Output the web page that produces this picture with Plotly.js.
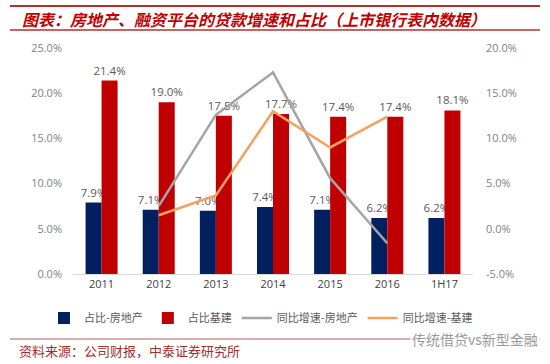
<!DOCTYPE html>
<html><head><meta charset="utf-8">
<script src="https://cdn.plot.ly/plotly-3.0.1.min.js"></script>
<style>html,body{margin:0;padding:0;background:#fff}#c{width:550px;height:364px}</style>
</head><body><div id="c"></div>
<script>
const categories = ['2011','2012','2013','2014','2015','2016','1H17'];
const shareRealEstate = [7.9, 7.1, 7.0, 7.4, 7.1, 6.2, 6.2];
const shareInfra = [21.4, 19.0, 17.5, 17.7, 17.4, 17.4, 18.1];
const growthRealEstate = [null, 2.5, 12.6, 17.3, 5.6, -1.6, null];
const growthInfra = [null, 1.5, 3.7, 13.0, 9.0, 12.4, null];
const leftTicks = [0,5,10,15,20,25];
const rightTicks = [-5,0,5,10,15,20];

const px = x => (x-73)/400;
const py = y => (274-y)/226;
const labelFont = {family:'Open Sans, DejaVu Sans, sans-serif', size:11.5, color:'#595959'};

const traces = [
  {type:'bar', name:'占比-房地产', x:categories, y:shareRealEstate, marker:{color:'#002060'},
   texttemplate:'%{y:.1f}%', textposition:'outside', textfont:labelFont, constraintext:'none', cliponaxis:false, hoverinfo:'skip'},
  {type:'bar', name:'占比基建', x:categories, y:shareInfra, marker:{color:'#c00000'},
   texttemplate:'%{y:.1f}%', textposition:'outside', textfont:labelFont, constraintext:'none', cliponaxis:false, hoverinfo:'skip'},
  {type:'scatter', mode:'lines', name:'同比增速-房地产', x:categories, y:growthRealEstate, yaxis:'y2',
   line:{color:'#a5a5a5', width:2.5}, connectgaps:false},
  {type:'scatter', mode:'lines', name:'同比增速-基建', x:categories, y:growthInfra, yaxis:'y2',
   line:{color:'#f4a15d', width:2.5}, connectgaps:false}
];

const layout = {
  width:550, height:364,
  margin:{l:73, r:77, t:48, b:90},
  paper_bgcolor:'#fff', plot_bgcolor:'#fff',
  barmode:'group', bargap:0.44, bargroupgap:0,
  showlegend:true,
  legend:{orientation:'h', xref:'paper', yref:'paper', x:px(44), xanchor:'left', y:py(318), yanchor:'middle',
    font:{family:'Noto Sans CJK SC, sans-serif', size:11, color:'#595959'}, itemwidth:30,
    traceorder:'normal', bgcolor:'rgba(0,0,0,0)'},
  xaxis:{type:'category', showline:true, linecolor:'#d9d9d9', linewidth:1, ticks:'',
    tickfont:{family:'Open Sans, DejaVu Sans, sans-serif', size:11, color:'#404040'}, showgrid:false, zeroline:false},
  yaxis:{range:[0,25], tickvals:leftTicks, ticktext:leftTicks.map(v=>v.toFixed(1)+'%'), showgrid:false, zeroline:false,
    showline:false, ticklabelstandoff:10,
    tickfont:{family:'Open Sans, DejaVu Sans, sans-serif', size:11, color:'#7f7f7f'}},
  yaxis2:{range:[-5,20], overlaying:'y', side:'right', tickvals:rightTicks, ticktext:rightTicks.map(v=>v.toFixed(1)+'%'),
    showgrid:false, zeroline:false, showline:false, ticklabelstandoff:12,
    tickfont:{family:'Open Sans, DejaVu Sans, sans-serif', size:11, color:'#7f7f7f'}},
  shapes:[
    {type:'line', xref:'paper', yref:'paper', x0:px(10), x1:px(540), y0:py(6), y1:py(6), line:{color:'#b03030', width:2}},
    {type:'line', xref:'paper', yref:'paper', x0:px(10), x1:px(540), y0:py(30), y1:py(30), line:{color:'#b03030', width:1.5}},
    {type:'line', xref:'paper', yref:'paper', x0:px(10), x1:px(540), y0:py(339), y1:py(339), line:{color:'#b06060', width:1}}
  ],
  annotations:[
    {text:'<b><i>图表：房地产、融资平台的贷款增速和占比（上市银行表内数据）</i></b>', xref:'paper', yref:'paper',
     x:px(20), y:py(19), xanchor:'left', yanchor:'middle', showarrow:false,
     font:{family:'Noto Sans CJK SC, sans-serif', size:16, color:'#c00000'}},
    {text:'资料来源：公司财报，中泰证券研究所', xref:'paper', yref:'paper',
     x:px(17), y:py(350), xanchor:'left', yanchor:'middle', showarrow:false,
     font:{family:'Noto Sans CJK SC, sans-serif', size:13, color:'#a03030'}},
    {text:'传统借贷vs新型金融', xref:'paper', yref:'paper',
     x:px(540), y:py(339), xanchor:'right', yanchor:'middle', showarrow:false, bgcolor:'#fff',
     font:{family:'Noto Sans CJK SC, sans-serif', size:14, color:'#9a9a9a'}}
  ]
};
Plotly.newPlot('c', traces, layout, {displayModeBar:false, staticPlot:true});
</script></body></html>
